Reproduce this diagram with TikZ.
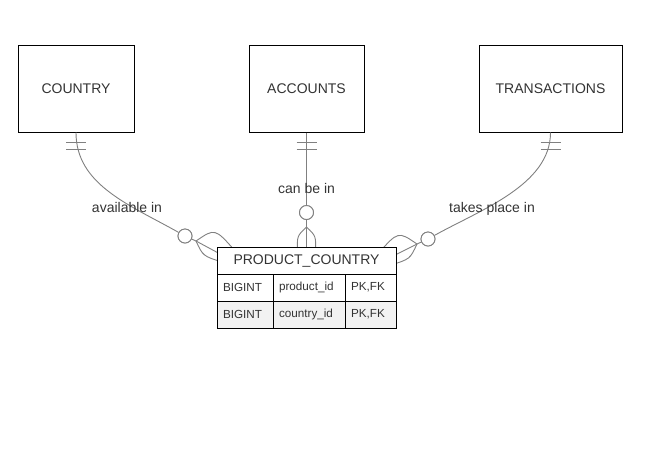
\documentclass[tikz,border=0pt]{standalone}
\usepackage{fontspec}
\setmainfont{Liberation Sans}
\definecolor{conncol}{HTML}{808080}
\definecolor{txtcol}{HTML}{333333}
\definecolor{rowgray}{HTML}{F2F2F2}
\begin{document}
\begin{tikzpicture}[x=1pt,y=-1pt,
  conn/.style={draw=conncol, line width=0.9pt},
  ent/.style={draw=black, fill=white, line width=1pt, minimum width=#1, minimum height=87pt, inner sep=0pt, font=\fontsize{14}{16}\selectfont, text=txtcol},
  hdr/.style={draw=black, fill=white, line width=1pt, minimum width=179pt, minimum height=27pt, inner sep=0pt, font=\fontsize{14}{16}\selectfont, text=txtcol},
  cell/.style={draw=black, line width=1pt, minimum width=#1, text width=#1-12pt, minimum height=27pt, inner xsep=6pt, inner ysep=0pt, align=left, font=\fontsize{11.7}{14}\selectfont, text=txtcol},
  zcirc/.style={circle, draw=conncol, fill=white, line width=0.9pt, minimum size=14pt, inner sep=0pt},
  lbl/.style={font=\fontsize{14}{16}\selectfont, text=txtcol, inner sep=1pt}
]
\useasboundingbox (0,0) rectangle (647,451);

% coordinates for circles and crow's feet
\node[zcirc] (circL) at (185,236) {};
\node[zcirc] (circM) at (306.5,212.5) {};
\node[zcirc] (circR) at (428,239) {};
\coordinate (aL) at (196,241);
\coordinate (aM) at (306.5,227);
\coordinate (aR) at (417,244);

% entities (need positions for connectors)
\node[ent=116pt] (country) at (76,88.5) {COUNTRY};
\node[ent=115pt] (accounts) at (306.5,88.5) {ACCOUNTS};
\node[ent=143pt] (transactions) at (550.5,88.5) {TRANSACTIONS};

% connectors
\draw[conn] (country.south) .. controls (76,185) and (130,205) .. (circL);
\draw[conn] (accounts.south) -- (circM);
\draw[conn] (transactions.south) .. controls (550.5,185) and (480,210) .. (circR);
\node[zcirc] at (circL) {};
\node[zcirc] at (circM) {};
\node[zcirc] at (circR) {};

% ticks (exactly one)
\foreach \e in {country,accounts,transactions}{
  \draw[conn] ([xshift=-10pt,yshift=-9.5pt]\e.south) -- ++(20,0);
  \draw[conn] ([xshift=-10pt,yshift=-16.5pt]\e.south) -- ++(20,0);
}

% crow's feet (many)
\draw[conn] (circL) -- (aL);
\draw[conn] (aL) .. controls (215,228) .. (236,252);
\draw[conn] (aL) .. controls (203,256) .. (222,262);
\draw[conn] (aL) -- (222,255);

\draw[conn] (circM) -- (aM);
\draw[conn] (aM) .. controls (297,236) .. (297.5,252);
\draw[conn] (aM) .. controls (316,236) .. (315.5,252);
\draw[conn] (aM) -- (306.5,252);

\draw[conn] (circR) -- (aR);
\draw[conn] (aR) .. controls (398,231) .. (377,255);
\draw[conn] (aR) .. controls (410,259) .. (391,265);
\draw[conn] (aR) -- (391,257);

% labels
\node[lbl] (lblL) at (127,207) {available in};
\node[lbl] (lblM) at (306.5,188) {can be in};
\node[lbl] (lblR) at (492,209) {takes place in};

% table
\node[hdr] (pc) at (306.5,260.5) {PRODUCT\_COUNTRY};
\node[cell=56pt, fill=white] (c11) at (245,287.5) {BIGINT};
\node[cell=72pt, fill=white] (c12) at (309,287.5) {product\_id};
\node[cell=51pt, fill=white] (c13) at (370.5,287.5) {PK,FK};
\node[cell=56pt, fill=rowgray] (c21) at (245,314.5) {BIGINT};
\node[cell=72pt, fill=rowgray] (c22) at (309,314.5) {country\_id};
\node[cell=51pt, fill=rowgray] (c23) at (370.5,314.5) {PK,FK};
\end{tikzpicture}
\end{document}
